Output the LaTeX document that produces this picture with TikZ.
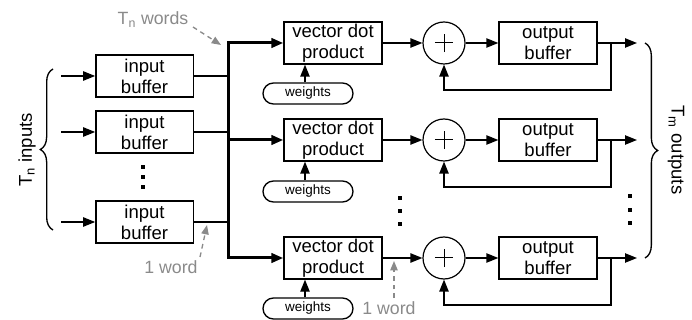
\documentclass[tikz,border=0pt]{standalone}
\usepackage{fontspec}
\setmainfont{Liberation Sans}
\usetikzlibrary{arrows.meta,decorations.pathreplacing,shapes.misc}
\definecolor{notegray}{HTML}{8A8A8A}
\begin{document}
\begin{tikzpicture}[x=0.75pt,y=-0.75pt,
  every node/.style={font=\fontsize{13.9pt}{15.6pt}\selectfont},
  blk/.style={draw,line width=1pt,inner sep=0pt,align=center,minimum width=73pt,minimum height=31.5pt},
  wgt/.style={draw,line width=1pt,rounded rectangle,inner sep=0pt,minimum width=67.5pt,minimum height=15.75pt,font=\fontsize{10.1pt}{12pt}\selectfont},
  sumc/.style={draw,circle,line width=0.9pt,minimum size=31.5pt,inner sep=0pt},
  ln/.style={line width=1pt},
  pls/.style={line width=0.75pt},
  arr/.style={line width=1pt,-{Triangle[length=9pt,width=7pt]}},
  bus/.style={line width=2.25pt},
  barr/.style={line width=2.25pt,-{Triangle[length=9pt,width=7pt]}},
  note/.style={text=notegray,inner sep=0pt,font=\fontsize{13.3pt}{15pt}\selectfont},
  narr/.style={draw=notegray,line width=1pt,dash pattern=on 3.5pt off 3pt,-{Triangle[length=7pt,width=5.5pt]}},
  dotsq/.style={fill,inner sep=0pt,minimum size=3.6pt},
  brc/.style={line width=1pt,decorate,decoration={brace,amplitude=9.5pt}},
]
\useasboundingbox (0,0) rectangle (692,320);

% input buffers
\node[blk] (ib1) at (144.5,76) {input\\buffer};
\node[blk] (ib2) at (144.5,132) {input\\buffer};
\node[blk] (ib3) at (144.5,222) {input\\buffer};
\coordinate (i1) at (61,76);
\coordinate (i2) at (61,132);
\coordinate (i3) at (61,222);
\draw[arr] (i1) -- (ib1);
\draw[arr] (i2) -- (ib2);
\draw[arr] (i3) -- (ib3);
\node[dotsq] (da1) at (143,167) {};
\node[dotsq] (da2) at (143,177) {};
\node[dotsq] (da3) at (143,187) {};

% left brace and label
\draw[brc] (53,230) -- (53,69);
\node[rotate=90] (tin) at (27,150) {T\textsubscript{n} inputs};

% bus
\coordinate (bt) at (228,43);
\coordinate (bb) at (228,258);
\draw[ln] (ib1.east) -- (ib1.east -| bt);
\draw[ln] (ib2.east) -- (ib2.east -| bt);
\draw[ln] (ib3.east) -- (ib3.east -| bt);

% vector dot products
\node[blk,minimum width=73.5pt] (vd1) at (333,43) {vector dot\\product};
\node[blk,minimum width=73.5pt] (vd2) at (333,140) {vector dot\\product};
\node[blk,minimum width=73.5pt] (vd3) at (333,258) {vector dot\\product};
\draw[barr] (bb) -- (bt) -- (vd1.west);
\draw[barr] (bt) -- (bb) -- (vd3.west);
\draw[barr] (vd2.west -| bt) -- (vd2.west);

% weights
\node[wgt] (w1) at (308,93.5) {weights};
\node[wgt] (w2) at (308,191.5) {weights};
\node[wgt] (w3) at (308,308.5) {weights};
\draw[arr] ([xshift=-2.25pt]w1.north) -- ([xshift=-2.25pt]w1.north |- vd1.south);
\draw[arr] ([xshift=-2.25pt]w2.north) -- ([xshift=-2.25pt]w2.north |- vd2.south);
\draw[arr] ([xshift=-2.25pt]w3.north) -- ([xshift=-2.25pt]w3.north |- vd3.south);

% adders
\node[sumc] (s1) at (444,43) {};
\node[sumc] (s2) at (444,140) {};
\node[sumc] (s3) at (444,258) {};
\foreach \s in {s1,s2,s3}{
  \draw[pls] ([xshift=-6.8pt]\s.center) -- ([xshift=6.8pt]\s.center);
  \draw[pls] ([yshift=-6.8pt]\s.center) -- ([yshift=6.8pt]\s.center);
}
\draw[arr] (vd1.east) -- (s1.west);
\draw[arr] (vd2.east) -- (s2.west);
\draw[arr] (vd3.east) -- (s3.west);
\node[dotsq] (db1) at (400,198) {};
\node[dotsq] (db2) at (400,211) {};
\node[dotsq] (db3) at (400,224) {};

% output buffers
\node[blk,minimum width=73.5pt] (ob1) at (548,43) {output\\buffer};
\node[blk,minimum width=73.5pt] (ob2) at (548,140) {output\\buffer};
\node[blk,minimum width=73.5pt] (ob3) at (548,258) {output\\buffer};
\draw[arr] (s1.east) -- (ob1.west);
\draw[arr] (s2.east) -- (ob2.west);
\draw[arr] (s3.east) -- (ob3.west);
\coordinate (o1) at (637,43);
\coordinate (o2) at (637,140);
\coordinate (o3) at (637,258);
\draw[arr] (ob1.east) -- (o1);
\draw[arr] (ob2.east) -- (o2);
\draw[arr] (ob3.east) -- (o3);
\coordinate (f1) at (611,43);
\coordinate (f2) at (611,140);
\coordinate (f3) at (611,258);
\coordinate (fb1) at (611,90);
\coordinate (fb2) at (611,187);
\coordinate (fb3) at (611,305);
\draw[arr] (f1) -- (fb1) -| (s1.south);
\draw[arr] (f2) -- (fb2) -| (s2.south);
\draw[arr] (f3) -- (fb3) -| (s3.south);
\node[dotsq] (dc1) at (630,196) {};
\node[dotsq] (dc2) at (630,210) {};
\node[dotsq] (dc3) at (630,223) {};

% right brace and label
\draw[brc] (645,43) -- (645,258);
\node[rotate=-90] (tout) at (676,150) {T\textsubscript{m} outputs};

% notes
\node[note] (tw) at (153,20) {T\textsubscript{n} words};
\coordinate (twa) at (193,27);
\coordinate (twb) at (221,45);
\draw[narr] (twa) -- (twb);
\node[note] (ow1) at (171,267) {1 word};
\coordinate (owa) at (200,257);
\coordinate (owb) at (207,225);
\draw[narr] (owa) -- (owb);
\node[note] (ow2) at (389,308) {1 word};
\coordinate (owc) at (394,298);
\coordinate (owd) at (394,261);
\draw[narr] (owc) -- (owd);
\end{tikzpicture}
\end{document}
